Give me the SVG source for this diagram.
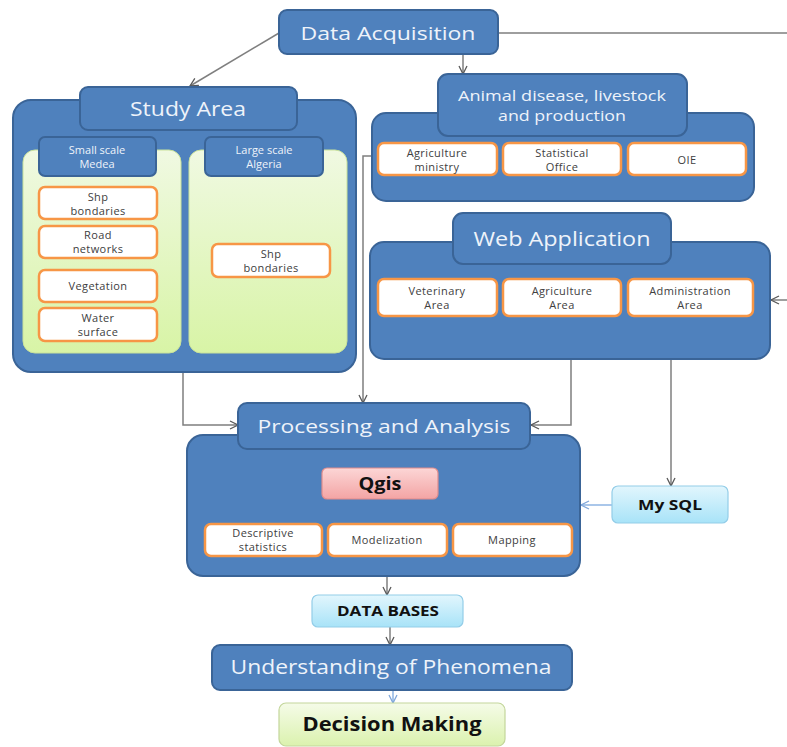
<svg xmlns="http://www.w3.org/2000/svg" width="787" height="747" viewBox="0 0 787 747">
<defs>
<linearGradient id="gGreen" x1="0" y1="0" x2="0" y2="1"><stop offset="0" stop-color="#F0F9E2"/><stop offset="1" stop-color="#D8F4A6"/></linearGradient>
<linearGradient id="gBlue" x1="0" y1="0" x2="0" y2="1"><stop offset="0" stop-color="#E2F6FD"/><stop offset="1" stop-color="#A8E3F8"/></linearGradient>
<linearGradient id="gPink" x1="0" y1="0" x2="0" y2="1"><stop offset="0" stop-color="#FCD6D6"/><stop offset="1" stop-color="#F3A4A4"/></linearGradient>
<linearGradient id="gDec" x1="0" y1="0" x2="0" y2="1"><stop offset="0" stop-color="#F5FBE8"/><stop offset="1" stop-color="#DBF2AE"/></linearGradient>
<marker id="arr" viewBox="0 0 10 10" refX="9" refY="5" markerWidth="10" markerHeight="10" markerUnits="userSpaceOnUse" orient="auto">
<path d="M1,1 L9,5 L1,9" fill="none" stroke="#595959" stroke-width="1.3"/>
</marker>
<marker id="arrB" viewBox="0 0 10 10" refX="9" refY="5" markerWidth="10" markerHeight="10" markerUnits="userSpaceOnUse" orient="auto">
<path d="M1,1 L9,5 L1,9" fill="none" stroke="#7FA6DA" stroke-width="1.3"/>
</marker>
</defs>
<style>
.blue{fill:#4F81BD;stroke:#3A6497;stroke-width:2}
.green{fill:url(#gGreen);stroke:#C9E29A;stroke-width:1}
.org{fill:#FFFFFF;stroke:#F79646;stroke-width:2.5}
.lb{fill:url(#gBlue);stroke:#93CDE8;stroke-width:1.2}
.tw{font-family:"Open Sans","Liberation Sans",sans-serif;fill:#EEF3FA;text-anchor:middle}
.ts{font-family:"Open Sans","Liberation Sans",sans-serif;fill:#404040;font-size:11px;letter-spacing:0.4px;text-anchor:middle}
.tb{font-family:"Open Sans","Liberation Sans",sans-serif;fill:#111111;font-weight:bold;text-anchor:middle}
.con{fill:none;stroke:#7F7F7F;stroke-width:1.5}
</style>
<rect width="787" height="747" fill="#FFFFFF"/>

<g id="connectors">
<line class="con" x1="279" y1="33" x2="190" y2="86" marker-end="url(#arr)"/>
<line class="con" x1="463" y1="54" x2="463" y2="74" marker-end="url(#arr)"/>
<path class="con" d="M498,33 H788 V300"/>
<line class="con" x1="788" y1="300" x2="771" y2="300" marker-end="url(#arr)"/>
<path class="con" d="M183,372 V425 H238" marker-end="url(#arr)"/>
<path class="con" d="M372,156 H363 V403" marker-end="url(#arr)"/>
<path class="con" d="M571,359 V425 H531" marker-end="url(#arr)"/>
<line class="con" x1="671" y1="359" x2="671" y2="486" marker-end="url(#arr)"/>
<line x1="612" y1="505" x2="581" y2="505" stroke="#8EB4E3" stroke-width="1.5" marker-end="url(#arrB)"/>
<line class="con" x1="387" y1="576" x2="387" y2="595" marker-end="url(#arr)"/>
<line class="con" x1="390" y1="627" x2="390" y2="645" marker-end="url(#arr)"/>
<line x1="393" y1="690" x2="393" y2="703" stroke="#8EB4E3" stroke-width="1.5" marker-end="url(#arrB)"/>
</g>

<g id="data-acquisition">
<rect class="blue" x="279" y="10" width="219" height="44" rx="8"/>
<text class="tw" x="388" y="40" font-size="19" textLength="175" lengthAdjust="spacingAndGlyphs">Data Acquisition</text>
</g>

<g id="study-area">
<rect class="blue" x="13" y="100" width="343" height="272" rx="18"/>
<rect class="green" x="23" y="150" width="158" height="203" rx="12"/>
<rect class="green" x="189" y="150" width="158" height="203" rx="12"/>
<rect class="blue" x="80" y="87" width="217" height="43" rx="8"/>
<text class="tw" x="188" y="116" font-size="20" textLength="116" lengthAdjust="spacingAndGlyphs">Study Area</text>
</g>

<g id="small-scale">
<rect class="blue" x="39" y="137" width="117" height="39" rx="6"/>
<text class="tw" x="97" y="154" font-size="11">Small scale</text>
<text class="tw" x="97" y="168" font-size="11">Medea</text>
</g>
<g id="large-scale">
<rect class="blue" x="205" y="137" width="118" height="39" rx="6"/>
<text class="tw" x="264" y="154" font-size="11">Large scale</text>
<text class="tw" x="264" y="168" font-size="11">Algeria</text>
</g>

<g id="shp-medea">
<rect class="org" x="39" y="187" width="118" height="32" rx="6"/>
<text class="ts" x="98" y="201">Shp</text>
<text class="ts" x="98" y="215">bondaries</text>
</g>
<g id="road">
<rect class="org" x="39" y="226" width="118" height="32" rx="6"/>
<text class="ts" x="98" y="239">Road</text>
<text class="ts" x="98" y="253">networks</text>
</g>
<g id="vegetation">
<rect class="org" x="39" y="270" width="118" height="32" rx="6"/>
<text class="ts" x="98" y="290">Vegetation</text>
</g>
<g id="water">
<rect class="org" x="39" y="308" width="118" height="33" rx="6"/>
<text class="ts" x="98" y="322">Water</text>
<text class="ts" x="98" y="336">surface</text>
</g>
<g id="shp-algeria">
<rect class="org" x="212" y="244" width="118" height="33" rx="6"/>
<text class="ts" x="271" y="258">Shp</text>
<text class="ts" x="271" y="272">bondaries</text>
</g>

<g id="animal-disease">
<rect class="blue" x="372" y="113" width="382" height="88" rx="14"/>
<rect class="blue" x="438" y="74" width="249" height="62" rx="10"/>
<text class="tw" x="562" y="101" font-size="15" textLength="208" lengthAdjust="spacingAndGlyphs">Animal disease, livestock</text>
<text class="tw" x="562" y="121" font-size="15" textLength="128" lengthAdjust="spacingAndGlyphs">and production</text>
</g>
<g id="agri-ministry">
<rect class="org" x="378" y="143" width="119" height="32" rx="6"/>
<text class="ts" x="437" y="157">Agriculture</text>
<text class="ts" x="437" y="171">ministry</text>
</g>
<g id="stat-office">
<rect class="org" x="503" y="143" width="118" height="32" rx="6"/>
<text class="ts" x="562" y="157">Statistical</text>
<text class="ts" x="562" y="171">Office</text>
</g>
<g id="oie">
<rect class="org" x="628" y="143" width="118" height="32" rx="6"/>
<text class="ts" x="687" y="164">OIE</text>
</g>

<g id="web-application">
<rect class="blue" x="370" y="242" width="400" height="117" rx="14"/>
<rect class="blue" x="453" y="213" width="218" height="51" rx="10"/>
<text class="tw" x="562" y="246" font-size="20" textLength="177" lengthAdjust="spacingAndGlyphs">Web Application</text>
</g>
<g id="veterinary">
<rect class="org" x="378" y="279" width="119" height="37" rx="6"/>
<text class="ts" x="437" y="295">Veterinary</text>
<text class="ts" x="437" y="309">Area</text>
</g>
<g id="agri-area">
<rect class="org" x="503" y="279" width="118" height="37" rx="6"/>
<text class="ts" x="562" y="295">Agriculture</text>
<text class="ts" x="562" y="309">Area</text>
</g>
<g id="admin-area">
<rect class="org" x="628" y="279" width="125" height="37" rx="6"/>
<text class="ts" x="690" y="295">Administration</text>
<text class="ts" x="690" y="309">Area</text>
</g>

<g id="processing">
<rect class="blue" x="187" y="435" width="393" height="141" rx="16"/>
<rect class="blue" x="238" y="403" width="292" height="46" rx="9"/>
<text class="tw" x="384" y="433" font-size="19" textLength="253" lengthAdjust="spacingAndGlyphs">Processing and Analysis</text>
</g>
<g id="qgis">
<rect x="322" y="468" width="116" height="31" rx="5" fill="url(#gPink)" stroke="#E08C8C" stroke-width="1.2"/>
<text class="tb" x="380" y="490" font-size="17" textLength="43" lengthAdjust="spacingAndGlyphs">Qgis</text>
</g>
<g id="descriptive">
<rect class="org" x="205" y="524" width="117" height="32" rx="6"/>
<text class="ts" x="263" y="537">Descriptive</text>
<text class="ts" x="263" y="551">statistics</text>
</g>
<g id="modelization">
<rect class="org" x="328" y="524" width="119" height="32" rx="6"/>
<text class="ts" x="387" y="544">Modelization</text>
</g>
<g id="mapping">
<rect class="org" x="453" y="524" width="119" height="32" rx="6"/>
<text class="ts" x="512" y="544">Mapping</text>
</g>

<g id="mysql">
<rect class="lb" x="612" y="486" width="116" height="37" rx="6"/>
<text class="tb" x="670" y="510" font-size="15" textLength="64" lengthAdjust="spacingAndGlyphs">My SQL</text>
</g>

<g id="data-bases">
<rect class="lb" x="312" y="595" width="151" height="32" rx="6"/>
<text class="tb" x="388" y="616" font-size="14" textLength="102" lengthAdjust="spacingAndGlyphs">DATA BASES</text>
</g>

<g id="understanding">
<rect class="blue" x="212" y="645" width="360" height="45" rx="8"/>
<text class="tw" x="391" y="674" font-size="20" textLength="321" lengthAdjust="spacingAndGlyphs">Understanding of Phenomena</text>
</g>

<g id="decision-making">
<rect x="279" y="703" width="226" height="43" rx="7" fill="url(#gDec)" stroke="#C3D69B" stroke-width="1.2"/>
<text class="tb" x="392" y="731" font-size="20" textLength="179" lengthAdjust="spacingAndGlyphs">Decision Making</text>
</g>
</svg>
